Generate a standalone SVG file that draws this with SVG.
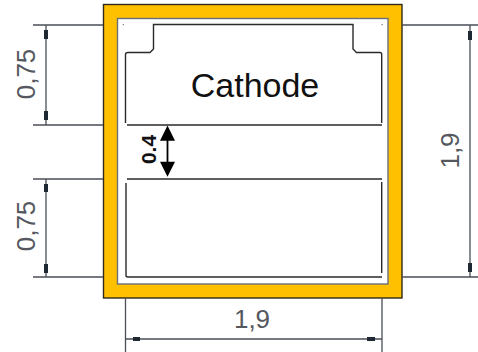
<svg xmlns="http://www.w3.org/2000/svg" width="478" height="352" viewBox="0 0 478 352">
<style>
.dim{fill:none;stroke:#4a4f57;stroke-width:1.3}
.tick{fill:none;stroke:#1f2933;stroke-width:4}
.part{fill:none;stroke:#2a2a2a;stroke-width:1.4}
.lbl{font-family:"Liberation Sans",Arial,sans-serif;font-size:26px;fill:#55585e;text-anchor:middle}
</style>
<rect width="478" height="352" fill="#fff"/>
<g id="frame">
<rect x="110.500" y="11.500" width="284.500" height="279.500" fill="none" stroke="#ffc000" stroke-width="14"/>
<rect x="103.500" y="4.500" width="298.500" height="293.500" fill="none" stroke="#2f2a1c" stroke-width="1.400"/>
<rect x="117.500" y="18.500" width="270.500" height="265.500" fill="none" stroke="#6b6f75" stroke-width="1.400"/>
<rect x="122.700" y="24" width="1.200" height="1.200" fill="#777"/>
<rect x="381.500" y="24" width="1.200" height="1.200" fill="#777"/>
</g>
<g id="cathode">
<path class="part" d="M125.500 123V54.500Q125.500 52.500 128 52.500H150L153.500 49V24.500H353V49L356.500 52.500H380Q381.700 52.500 381.700 54.500V123M127 125H382"/>
<text x="255" y="97.300" font-family="'Liberation Sans',Arial,sans-serif" font-size="34" text-anchor="middle" fill="#111">Cathode</text>
</g>
<g id="lower-part">
<path class="part" d="M127 179H382M381.700 182V273M126 183V275.500Q126 277 128 277H382"/>
</g>
<g id="connectors">
<path class="dim" d="M33 25H103M33 125H103M33 179H103M33 277H103M402 25H478M402 277H478M46 25V125M46 179V277M470 25V277M125.500 298V352M382 298V352M125.500 339H382"/>
<path class="tick" d="M46 30V39M46 111V120M46 184V192M46 264V273M470 31V40M470 263V272M133 339H140M367 339H375"/>
<path d="M167.500 125.500L175 140.700H168.400V161.700H175L167.500 176.700L160 161.700H166.600V140.700H160Z" fill="#000"/>
</g>
<g id="labels">
<text class="lbl" transform="translate(35 74) rotate(-90)">0,75</text>
<text class="lbl" transform="translate(35 226) rotate(-90)">0,75</text>
<text class="lbl" transform="translate(459 150.500) rotate(-90)">1,9</text>
<text class="lbl" x="252" y="327.500">1,9</text>
<text transform="translate(156 149.500) rotate(-90)" font-family="'Liberation Sans',Arial,sans-serif" font-size="21" font-weight="bold" text-anchor="middle" fill="#111">0.4</text>
</g>
</svg>
